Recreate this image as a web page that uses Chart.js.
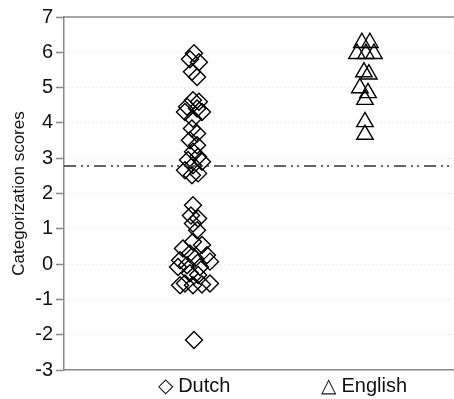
<!DOCTYPE html>
<html>
<head>
<meta charset="utf-8">
<script src="https://cdn.jsdelivr.net/npm/chart.js@4/dist/chart.umd.min.js"></script>
<style>
  html, body { margin: 0; padding: 0; background: #ffffff; }
  #wrap { width: 454px; height: 399px; }
</style>
</head>
<body>
<div id="wrap"><canvas id="c" width="454" height="399"></canvas></div>
<script>
// Group labels shown under the x axis (position 1 and 2)
const categories = ['\u25C7 Dutch', '\u25B3 English'];

// Dutch items: categorization score and horizontal jitter position
const dutchScores = [
  5.97, 5.80, 5.72, 5.45, 5.30,
  4.64, 4.60, 4.46, 4.41, 4.31, 4.31, 4.12, 3.84, 3.70, 3.51,
  3.37, 3.18, 3.04, 2.95, 2.90, 2.80, 2.66, 2.57, 2.52,
  1.67, 1.38, 1.29, 1.15, 0.96,
  0.63, 0.54, 0.44, 0.30, 0.25, 0.16, 0.11, 0.07, -0.03, -0.08,
  -0.08, -0.26, -0.31, -0.55, -0.60, -0.58, -0.55, -0.60,
  -2.15
];
const dutchJitter = [
  1.000, 0.976, 1.029, 0.988, 1.018,
  0.994, 1.029, 0.959, 1.018, 1.047, 0.947, 0.994, 0.988, 1.018, 0.976,
  1.018, 0.994, 1.024, 0.965, 1.047, 0.994, 0.947, 1.024, 0.988,
  0.994, 0.982, 1.024, 0.994, 1.018,
  0.994, 1.047, 0.935, 0.976, 1.076, 1.006, 0.918, 1.094, 0.959, 1.035,
  0.906, 0.976, 1.024, 0.947, 0.994, 1.047, 1.094, 0.918,
  1.000
];

// English items: categorization score and horizontal jitter position
const englishScores = [6.27, 6.27, 5.96, 5.96, 5.96, 5.44, 5.38, 4.99, 4.85, 4.66, 4.03, 3.67];
const englishJitter = [1.988, 2.035, 1.959, 2.012, 2.059, 2.000, 2.029, 1.976, 2.024, 2.006, 2.006, 2.006];

// Horizontal dash-dot-dot reference level
const referenceLevel = 2.78;

// Axis ranges and tick values
const xRange = [0.235, 2.53];
const yTicks = [-3, -2, -1, 0, 1, 2, 3, 4, 5, 6, 7];

const toPoints = (xs, ys) => ys.map((y, i) => ({ x: xs[i], y }));

const FONT = '"Liberation Sans", Arial, Helvetica, sans-serif';
const AXIS_GREY = '#8a8a8a';

// Solid frame line along the top of the plot area
const topFrame = {
  id: 'topFrame',
  afterDatasetsDraw(chart) {
    const { ctx, chartArea } = chart;
    ctx.save();
    ctx.strokeStyle = AXIS_GREY;
    ctx.lineWidth = 1.5;
    ctx.beginPath();
    ctx.moveTo(chartArea.left, chartArea.top);
    ctx.lineTo(chartArea.right, chartArea.top);
    ctx.stroke();
    ctx.restore();
  }
};

new Chart(document.getElementById('c'), {
  type: 'scatter',
  data: {
    datasets: [
      {
        type: 'line',
        label: 'reference',
        data: [{ x: xRange[0], y: referenceLevel }, { x: xRange[1], y: referenceLevel }],
        borderColor: '#333333',
        borderWidth: 1.5,
        borderDash: [12, 5, 2, 4, 2, 5],
        pointRadius: 0,
        fill: false
      },
      {
        label: 'Dutch',
        data: toPoints(dutchJitter, dutchScores),
        pointStyle: 'rectRot',
        pointRadius: 8.5,
        borderColor: '#000000',
        backgroundColor: 'rgba(0,0,0,0)',
        pointBorderWidth: 1.4
      },
      {
        label: 'English',
        data: toPoints(englishJitter, englishScores),
        pointStyle: 'triangle',
        pointRadius: 9.5,
        borderColor: '#000000',
        backgroundColor: 'rgba(0,0,0,0)',
        pointBorderWidth: 1.4
      }
    ]
  },
  options: {
    responsive: false,
    devicePixelRatio: 1,
    animation: false,
    events: [],
    layout: { autoPadding: false, padding: { top: 17, right: 0, left: 9, bottom: 0 } },
    plugins: {
      legend: { display: false },
      tooltip: { enabled: false }
    },
    scales: {
      x: {
        type: 'linear',
        min: xRange[0],
        max: xRange[1],
        afterBuildTicks(scale) {
          scale.ticks = categories.map((_, i) => ({ value: i + 1 }));
        },
        afterFit(scale) {
          scale.height = 29;
          scale.paddingLeft = 0;
          scale.paddingRight = 0;
        },
        grid: { display: false, drawTicks: false },
        border: { display: true, color: AXIS_GREY, width: 1.5 },
        ticks: {
          autoSkip: false,
          maxRotation: 0,
          padding: 4,
          color: '#111111',
          font: { family: FONT, size: 20 },
          callback: (v) => categories[Math.round(v) - 1] ?? ''
        }
      },
      y: {
        min: yTicks[0],
        max: yTicks[yTicks.length - 1],
        afterBuildTicks(scale) {
          scale.ticks = yTicks.map(v => ({ value: v }));
        },
        afterFit(scale) { scale.width = 55; },
        grid: {
          color: '#dcdcdc',
          lineWidth: 1,
          drawTicks: true,
          tickLength: 8,
          tickColor: AXIS_GREY,
          tickWidth: 1.5,
          tickBorderDash: []
        },
        border: { display: true, color: AXIS_GREY, width: 1.5, dash: [1, 3] },
        ticks: {
          padding: 3,
          color: '#111111',
          font: { family: FONT, size: 20 }
        },
        title: {
          display: true,
          text: 'Categorization scores',
          color: '#111111',
          font: { family: FONT, size: 17 },
          padding: { top: 0, bottom: 0 }
        }
      }
    }
  },
  plugins: [topFrame]
});
</script>
</body>
</html>
